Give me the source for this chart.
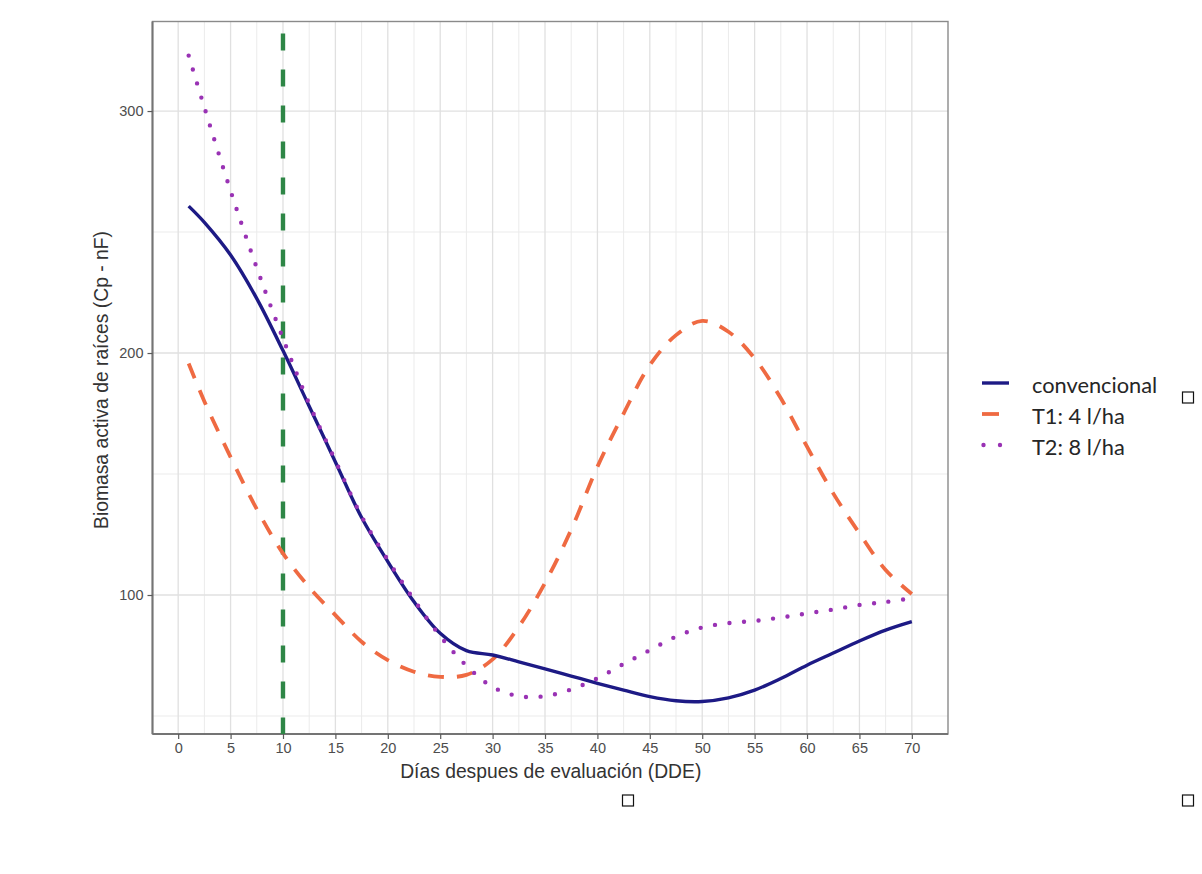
<html lang="es">
  <head>
    <meta charset="UTF-8" />
    <title>Biomasa activa de raíces</title>
    <script src="https://d3js.org/d3.v7.min.js"></script>
    <style>
      * {
        margin: 0;
        padding: 0;
      }
      body {
        background: #fff;
      }
    </style>
  </head>

  <body>
    <div id="svgContainer"></div>
    <script>
      // days after evaluation (shared x values of the three series)
      const days = [
        1, 2.5, 5, 7.5, 10, 12.5, 15, 17.5, 20, 22.5, 25, 27.5, 30, 32.5, 35,
        37.5, 40, 42.5, 45, 47.5, 50, 52.5, 55, 57.5, 60, 62.5, 65, 67.5, 70,
      ];

      const convencional = [
        260.7, 254, 240.5, 222.5, 201, 178, 155, 132, 113.8, 97.2, 84.2, 77,
        75.2, 72.4, 69.5, 66.5, 63.5, 60.7, 58, 56.3, 56, 57.5, 60.7, 65.5, 71,
        76, 81, 85.5, 89,
      ];

      const t1 = [
        195.7, 180, 157, 135.5, 117.2, 103.2, 91.7, 80.7, 73.1, 68.3, 66.2, 67,
        73.4, 86.9, 105, 127, 153, 175, 195, 207.4, 213.3, 208.8, 197.8, 181.3,
        161.3, 142, 125.5, 110.3, 100.4,
      ];

      const t2 = [
        322.9, 301.5, 267, 235.2, 206, 179, 155.5, 132.5, 114.5, 98, 83, 70.8,
        62, 58.2, 58.2, 61, 65.6, 71.5, 77.2, 82.8, 86.6, 88.4, 89.3, 90.7,
        92.4, 94, 95.9, 97.1, 98.7,
      ];

      const seriesNames = ["convencional", "T1: 4 l/ha", "T2: 8 l/ha"];
      const xTicks = d3.range(0, 71, 5);
      const yTicks = [100, 200, 300];
      const xMinor = d3.range(2.5, 71, 5);
      const yMinor = [50, 150, 250];
      const vlineDay = 10;

      const width = 1202;
      const height = 874;

      const PANEL = { left: 152.5, right: 948, top: 21.5, bottom: 734 };

      const svg = d3
        .select("#svgContainer")
        .append("svg")
        .attr("width", width)
        .attr("height", height)
        .style("font-family", "'Liberation Sans', Arial, sans-serif");

      svg
        .append("rect")
        .attr("width", width)
        .attr("height", height)
        .attr("fill", "#fff");

      const x = d3
        .scaleLinear()
        .domain([-2.45, 73.45])
        .range([PANEL.left, PANEL.right]);

      const y = d3
        .scaleLinear()
        .domain([42.56, 337])
        .range([PANEL.bottom, PANEL.top]);

      // grid
      const grid = svg.append("g");
      grid
        .selectAll("line.vminor")
        .data(xMinor)
        .join("line")
        .attr("x1", (d) => x(d))
        .attr("x2", (d) => x(d))
        .attr("y1", PANEL.top)
        .attr("y2", PANEL.bottom)
        .attr("stroke", "#ebebeb")
        .attr("stroke-width", 1);
      grid
        .selectAll("line.hminor")
        .data(yMinor)
        .join("line")
        .attr("x1", PANEL.left)
        .attr("x2", PANEL.right)
        .attr("y1", (d) => y(d))
        .attr("y2", (d) => y(d))
        .attr("stroke", "#ebebeb")
        .attr("stroke-width", 1);
      grid
        .selectAll("line.vmajor")
        .data(xTicks)
        .join("line")
        .attr("x1", (d) => x(d))
        .attr("x2", (d) => x(d))
        .attr("y1", PANEL.top)
        .attr("y2", PANEL.bottom)
        .attr("stroke", "#e0e0e0")
        .attr("stroke-width", 1.3);
      grid
        .selectAll("line.hmajor")
        .data(yTicks)
        .join("line")
        .attr("x1", PANEL.left)
        .attr("x2", PANEL.right)
        .attr("y1", (d) => y(d))
        .attr("y2", (d) => y(d))
        .attr("stroke", "#e0e0e0")
        .attr("stroke-width", 1.3);

      // panel border
      svg
        .append("rect")
        .attr("x", PANEL.left)
        .attr("y", PANEL.top)
        .attr("width", PANEL.right - PANEL.left)
        .attr("height", PANEL.bottom - PANEL.top)
        .attr("fill", "none")
        .attr("stroke", "#8a8a8a")
        .attr("stroke-width", 1.4);

      // axes
      const axisBottom = d3
        .axisBottom(x)
        .tickValues(xTicks)
        .tickSize(5)
        .tickPadding(4);
      const gx = svg
        .append("g")
        .attr("transform", `translate(0,${PANEL.bottom})`)
        .call(axisBottom);
      gx.select(".domain")
        .attr("d", `M${PANEL.left},0H${PANEL.right}`)
        .attr("stroke", "#747474")
        .attr("stroke-width", 2);

      const axisLeft = d3
        .axisLeft(y)
        .tickValues(yTicks)
        .tickSize(5)
        .tickPadding(4);
      const gy = svg
        .append("g")
        .attr("transform", `translate(${PANEL.left},0)`)
        .call(axisLeft);
      gy.select(".domain")
        .attr("d", `M0,${PANEL.top}V${PANEL.bottom}`)
        .attr("stroke", "#747474")
        .attr("stroke-width", 2);

      svg
        .selectAll(".tick line")
        .attr("stroke", "#5a5a5a")
        .attr("stroke-width", 1.2);
      svg
        .selectAll(".tick text")
        .attr("fill", "#4d4d4d")
        .style("font-size", "14.5px")
        .style("font-family", "'Liberation Sans', Arial, sans-serif");

      // axis titles
      svg
        .append("text")
        .attr("x", (PANEL.left + PANEL.right) / 2 + 0.5)
        .attr("y", 777.5)
        .attr("text-anchor", "middle")
        .attr("fill", "#333")
        .style("font-size", "19.3px")
        .text("Días despues de evaluación (DDE)");

      svg
        .append("text")
        .attr("transform", `translate(108,380) rotate(-90)`)
        .attr("text-anchor", "middle")
        .attr("fill", "#333")
        .style("font-size", "19.3px")
        .text("Biomasa activa de raíces (Cp - nF)");

      // series
      const styles = [
        { color: "#1d1a85", width: 3.4, dash: null, cap: "butt" },
        { color: "#ef6a42", width: 3.8, dash: "16,13", cap: "butt" },
        { color: "#9932b4", width: 4.4, dash: "0,14.6", cap: "round" },
      ];
      const values = [convencional, t1, t2];

      const line = d3
        .line()
        .x((d) => x(d[0]))
        .y((d) => y(d[1]))
        .curve(d3.curveCatmullRom.alpha(0.5));

      const plot = svg.append("g");

      // vertical reference line
      plot
        .append("line")
        .attr("x1", x(vlineDay))
        .attr("x2", x(vlineDay))
        .attr("y1", PANEL.top)
        .attr("y2", PANEL.bottom)
        .attr("stroke", "#2e8646")
        .attr("stroke-width", 4.4)
        .attr("stroke-dasharray", "17,19")
        .attr("stroke-dashoffset", 24);

      // draw T1 first, then T2, then convencional on top
      [1, 0, 2].forEach((i) => {
        const s = styles[i];
        const pts = days.map((d, k) => [d, values[i][k]]);
        plot
          .append("path")
          .attr("d", line(pts))
          .attr("fill", "none")
          .attr("stroke", s.color)
          .attr("stroke-width", s.width)
          .attr("stroke-linecap", s.cap)
          .attr("stroke-dasharray", s.dash);
      });

      // legend
      const legend = svg
        .append("g")
        .attr("transform", "translate(982,0)");
      const legendY = [383, 414, 445];
      const keyLen = [27, 17, 18];

      seriesNames.forEach((name, i) => {
        const s = styles[i];
        const row = legend.append("g").attr("transform", `translate(0,${legendY[i]})`);
        row
          .append("line")
          .attr("x1", i === 2 ? 1.5 : 0)
          .attr("x2", keyLen[i] + (i === 2 ? 1.5 : 0))
          .attr("y1", 0)
          .attr("y2", 0)
          .attr("stroke", s.color)
          .attr("stroke-width", s.width)
          .attr("stroke-linecap", s.cap)
          .attr("stroke-dasharray", i === 2 ? "0,16.5" : null);
        row
          .append("text")
          .attr("x", 50)
          .attr("y", 9.5)
          .attr("fill", "#262626")
          .style("font-family", "Lato, 'Open Sans', sans-serif")
          .style("font-size", "21.8px")
          .text(name);
      });

      // stray outline boxes in the picture
      const boxes = [
        [1182.5, 392],
        [622.5, 795],
        [1182.5, 795],
      ];
      svg
        .selectAll("rect.box")
        .data(boxes)
        .join("rect")
        .attr("class", "box")
        .attr("x", (d) => d[0])
        .attr("y", (d) => d[1])
        .attr("width", 11)
        .attr("height", 11)
        .attr("fill", "none")
        .attr("stroke", "#111")
        .attr("stroke-width", 1.2);
    </script>
  </body>
</html>
